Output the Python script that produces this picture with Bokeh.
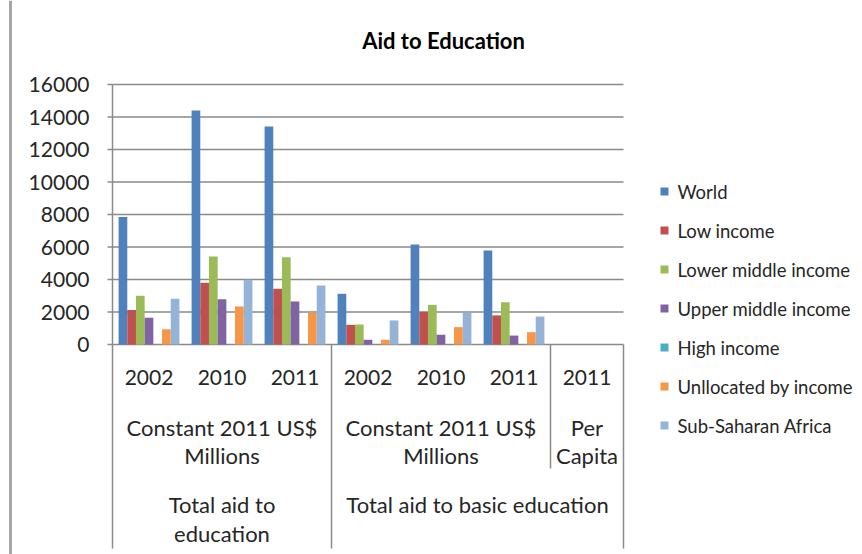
from bokeh.plotting import figure
from bokeh.models import Range1d, ColumnDataSource
from bokeh.core.properties import value
from bokeh.embed import file_html
from bokeh.resources import INLINE

# ---------------- data ----------------
categories = ["2002", "2010", "2011", "2002", "2010", "2011", "2011"]
unit_labels = ["Constant 2011 US$", "Millions"], ["Constant 2011 US$", "Millions"], ["Per", "Capita"]
unit_spans = [(0, 3), (3, 6), (6, 7)]
group_labels = [["Total aid to", "education"], ["Total aid to basic education"]]
group_spans = [(0, 3), (3, 7)]

series_names = ["World", "Low income", "Lower middle income", "Upper middle income",
                "High income", "Unllocated by income", "Sub-Saharan Africa"]
world = [7840, 14400, 13420, 3120, 6150, 5790, 0]
low_income = [2130, 3800, 3430, 1210, 2010, 1790, 0]
lower_middle = [3000, 5420, 5370, 1230, 2440, 2600, 0]
upper_middle = [1640, 2790, 2650, 290, 600, 550, 0]
high_income = [0, 0, 0, 0, 0, 0, 0]
unallocated = [940, 2340, 1950, 290, 1070, 760, 0]
ssa = [2810, 3980, 3630, 1480, 1950, 1720, 0]
series_values = [world, low_income, lower_middle, upper_middle, high_income, unallocated, ssa]
colors = ["#4F81BD", "#C0504D", "#9BBB59", "#8064A2", "#4BACC6", "#F79646", "#95B3D7"]

y_ticks = [0, 2000, 4000, 6000, 8000, 10000, 12000, 14000, 16000]
title_text = "Aid to Education"

# ---------------- layout (pixels) ----------------
W, H = 862, 554
X0_PX = 112          # left edge of category axis
CAT_PX = 73          # width of a category
ZERO_PX = 344        # y pixel of value 0
PX_PER_UNIT = 16.25 / 1000.0
BAR_W = 0.119
N_CAT = len(categories)
Y_MAX = y_ticks[-1]


def xd(px):
    return (px - X0_PX) / CAT_PX


def yd(px):
    return (ZERO_PX - px) / PX_PER_UNIT


p = figure(width=W, height=H, x_range=Range1d(xd(0), xd(W)), y_range=Range1d(yd(H), yd(0)),
           x_axis_type=None, y_axis_type=None, toolbar_location=None, output_backend="svg",
           min_border=0, outline_line_color=None)
p.background_fill_color = "white"
p.border_fill_color = "white"

FONT = value("Lato")
TXT = "#262626"
GRID = "#8a8a8a"

# far-left page border line
p.segment(x0=[xd(10)], y0=[yd(0)], x1=[xd(10)], y1=[yd(H)], line_color="#a6a6a6", line_width=3)

# gridlines
p.segment(x0=[0] * len(y_ticks), y0=y_ticks, x1=[N_CAT] * len(y_ticks), y1=y_ticks,
          line_color=GRID, line_width=1.5)
# tick marks
p.segment(x0=[xd(X0_PX - 5)] * len(y_ticks), y0=y_ticks, x1=[0] * len(y_ticks), y1=y_ticks,
          line_color=GRID, line_width=1.5)
# value axis line
p.segment(x0=[0], y0=[0], x1=[0], y1=[Y_MAX], line_color=GRID, line_width=1.5)
# tick labels
p.text(x=[xd(X0_PX - 23)] * len(y_ticks), y=y_ticks, text=[str(t) for t in y_ticks],
       text_align="right", text_baseline="middle", text_font=FONT,
       text_font_size=value("21px"), text_color=TXT)

# bars
for j, (name, vals, col) in enumerate(zip(series_names, series_values, colors)):
    xs = [i + 0.5 + (j - 3) * BAR_W for i in range(N_CAT)]
    src = ColumnDataSource(dict(x=xs, top=vals))
    p.vbar(x="x", top="top", bottom=0, width=BAR_W, source=src, fill_color=col, line_color=None)

# category separators
full_bounds = sorted(set([s for s, e in group_spans] + [e for s, e in group_spans]))
p.segment(x0=full_bounds, y0=[0] * len(full_bounds), x1=full_bounds, y1=[yd(548)] * len(full_bounds),
          line_color=GRID, line_width=1.5)
mid_bounds = [s for s, e in unit_spans if s not in full_bounds]
p.segment(x0=mid_bounds, y0=[0] * len(mid_bounds), x1=mid_bounds, y1=[yd(468)] * len(mid_bounds),
          line_color=GRID, line_width=1.5)

# year labels
p.text(x=[i + 0.5 for i in range(N_CAT)], y=[yd(377)] * N_CAT, text=categories,
       text_align="center", text_baseline="middle", text_font=FONT,
       text_font_size=value("21px"), text_color=TXT)

# unit labels
line_px = [427, 455]
for (s, e), lines in zip(unit_spans, unit_labels):
    for k, t in enumerate(lines):
        p.text(x=[(s + e) / 2], y=[yd(line_px[k])], text=[t], text_align="center",
               text_baseline="middle", text_font=FONT, text_font_size=value("22px"), text_color=TXT)

# group labels
gline_px = [504, 533]
for (s, e), lines in zip(group_spans, group_labels):
    for k, t in enumerate(lines):
        p.text(x=[(s + e) / 2], y=[yd(gline_px[k])], text=[t], text_align="center",
               text_baseline="middle", text_font=FONT, text_font_size=value("22px"), text_color=TXT)

# title
p.text(x=[xd(443)], y=[yd(40)], text=[title_text], text_align="center", text_baseline="middle",
       text_font=FONT, text_font_size=value("22px"), text_font_style="bold", text_color="#000000")

# legend (manual)
leg_y = [yd(191 + 39 * k) for k in range(len(series_names))]
p.scatter(x=[xd(664)] * len(series_names), y=leg_y, marker="square", size=8,
          fill_color=colors, line_color=None)
p.text(x=[xd(677)] * len(series_names), y=leg_y, text=series_names, text_align="left",
       text_baseline="middle", text_font=FONT, text_font_size=value("18.5px"), text_color=TXT)

open("out.html", "w").write(file_html(p, INLINE))
